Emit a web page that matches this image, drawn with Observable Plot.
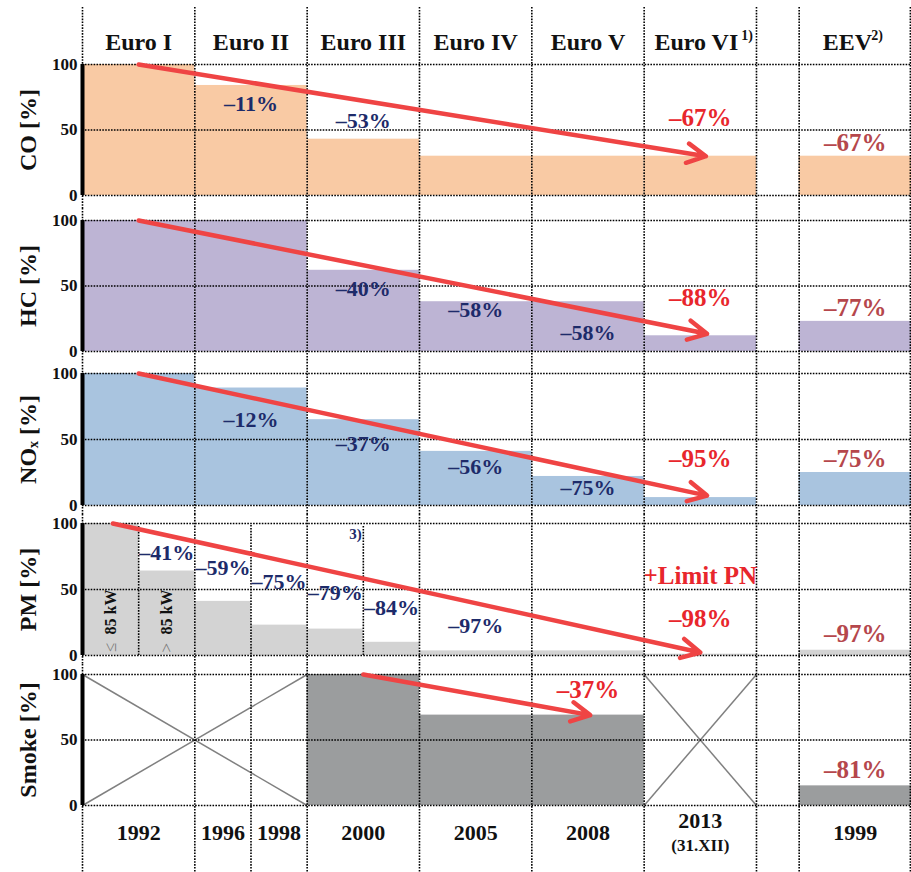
<!DOCTYPE html>
<html><head><meta charset="utf-8">
<script src="https://cdn.jsdelivr.net/npm/d3@7"></script>
<script src="https://cdn.jsdelivr.net/npm/@observablehq/plot@0.6"></script>
<style>
body{margin:0;background:#fff;}
#chart svg{display:block;}
</style></head><body><div id="chart"></div>
<script>
// ---------- data ----------
const stages = ["Euro I","Euro II","Euro III","Euro IV","Euro V","Euro VI","EEV"];
const years = ["1992","1996","1998","2000","2005","2008","2013","1999"];
const yearNote = "(31.XII)";
const coValues = [100, 84, 43, 30, 30, 30, 30];
const hcValues = [100, 100, 62, 38, 38, 12, 23];
const noxValues = [100, 89, 65, 41, 22, 6, 25];
const pmPeriods = ["1992 ≤85 kW","1992 >85 kW","1996","1998","2000","2000 3)","2005","2008","2013","EEV"];
const pmValues = [100, 64, 41, 23, 20, 10, 3.5, 3.5, 1, 4];
const smokeValues = [null, null, 100, 69, 69, null, 15];
// [stage/period, text, kind]
const coNotes = [["Euro II","–11%","navy"],["Euro III","–53%","navy"],["Euro VI","–67%","red"],["EEV","–67%","eev"]];
const hcNotes = [["Euro III","–40%","navy"],["Euro IV","–58%","navy"],["Euro V","–58%","navy"],["Euro VI","–88%","red"],["EEV","–77%","eev"]];
const noxNotes = [["Euro II","–12%","navy"],["Euro III","–37%","navy"],["Euro IV","–56%","navy"],["Euro V","–75%","navy"],["Euro VI","–95%","red"],["EEV","–75%","eev"]];
const pmNotes = [["1992 >85 kW","–41%","navy"],["1996","–59%","navy"],["1998","–75%","navy"],["2000","–79%","navy"],["2000 3)","–84%","navy"],["2005","–97%","navy"],["2013","+Limit PN","red"],["2013","–98%","red"],["EEV","–97%","eev"]];
const smokeNotes = [["Euro V","–37%","red"],["EEV","–81%","eev"]];

// ---------- layout (x in column units, y in % units) ----------
const colStart = [0,1,2,3,4,5,6.38];
const pmX1 = [0,0.5,1,1.5,2,2.5,3,4,5,6.38];
const pmX2 = [0.5,1,1.5,2,2.5,3,4,5,6,7.38];
const gridX = [0,1,2,3,4,5,6,6.38,7.37];
const yearX = [0.5,1.25,1.75,2.5,3.5,4.5,5.5,6.88];
const noteY = {
  co: [70,57,59,40], hc: [48,32,14.5,40.5,33.5], nox: [65,47,29.5,13,35.6,35.6],
  pm: [78,66.7,56,47.7,36,22.7,60,28,16], smoke: [88,27]
};
const arrows = {
  co: {x1:0.5,y1:100,x2:5.55,y2:30}, hc: {x1:0.5,y1:100,x2:5.56,y2:13.5},
  nox: {x1:0.5,y1:100,x2:5.56,y2:7.5}, pm: {x1:0.27,y1:100,x2:5.5,y2:2.3},
  smoke: {x1:2.5,y1:100,x2:4.52,y2:69}
};

const FONT = "'Liberation Serif','Times New Roman',serif";
const NAVY = "#1d2b6a", RED = "#e8262c", EEVRED = "#b5474c", ARROW = "#ef4444";
const DOT = {stroke:"#000", strokeWidth:1.6, strokeDasharray:"1.6,1.3"};
const colMid = s => colStart[stages.indexOf(s)] + 0.5;
const pmMid = p => { const i = pmPeriods.indexOf(p); return (pmX1[i] + pmX2[i]) / 2; };

function noteMarks(notes, ys, xOf) {
  const rows = notes.map(([k, t, kind], i) => ({x: xOf(k), y: ys[i], t, kind}));
  const pick = k => rows.filter(d => d.kind === k);
  const base = {x:"x", y:"y", text:"t", fontWeight:"bold", fontFamily: FONT};
  return [
    Plot.text(pick("navy"), {...base, fill:NAVY, fontSize:22}),
    Plot.text(pick("red"), {...base, fill:RED, fontSize:25}),
    Plot.text(pick("eev"), {...base, fill:EEVRED, fontSize:25})
  ];
}

function panel({mt, fh, mb, vTop = mt, label, bars, fill, notes, arrow, before = [], after = []}) {
  return Plot.plot({
    width: 911, height: mt + fh + mb,
    marginLeft: 82, marginRight: 0, marginTop: mt, marginBottom: mb,
    x: {domain: [0, 7.38], axis: null},
    y: {domain: [0, 100], axis: null},
    style: {fontFamily: FONT, background: "#fff", overflow: "visible"},
    marks: [
      Plot.rect(bars, {x1:"x1", x2:"x2", y1:0, y2:"v", fill}),
      ...before,
      Plot.ruleY([0, 50, 100], DOT),
      Plot.ruleX(gridX, {...DOT, insetTop: -vTop, insetBottom: -mb}),
      Plot.ruleX([0], {y1:0, y2:100, stroke:"#000", strokeWidth:4}),
      Plot.text([0, 50, 100], {y: d => d, text: d => String(d), frameAnchor:"left", dx:-5, textAnchor:"end", lineAnchor:"middle", fontSize:17, fontWeight:"bold", fontFamily: FONT, fill:"#111"}),
      Plot.text([label], {text: d => d, frameAnchor:"left", rotate:-90, dx:-54, textAnchor:"middle", lineAnchor:"middle", fontSize:24, fontWeight:"bold", fontFamily: FONT, fill:"#111"}),
      ...notes,
      Plot.arrow([arrow], {x1:"x1", y1:"y1", x2:"x2", y2:"y2", stroke:ARROW, strokeWidth:4.5, headLength:7, headAngle:55}),
      ...after
    ]
  });
}

const barsOf = vals => vals.map((v, i) => ({x1: colStart[i], x2: colStart[i] + 1, v})).filter(d => d.v != null);

const chart = document.getElementById("chart");

// CO with header
const headerMain = stages.map((s, i) => ({x: colStart[i] + 0.5, t: s}));
const H = {frameAnchor:"top", lineAnchor:"middle", fontWeight:"bold", fontFamily: FONT, fill:"#111"};
chart.append(panel({
  mt:64, fh:131, mb:13, vTop:57, label:"CO [%]", bars: barsOf(coValues), fill:"#f9caa4",
  notes: noteMarks(coNotes, noteY.co, colMid), arrow: arrows.co,
  after: [
    Plot.text(headerMain.filter(d => d.t !== "Euro VI" && d.t !== "EEV"), {...H, x:"x", text:"t", dy:-22, fontSize:24}),
    Plot.text(headerMain.filter(d => d.t === "Euro VI"), {...H, x:"x", text:"t", dy:-22, dx:-4, fontSize:24}),
    Plot.text(headerMain.filter(d => d.t === "Euro VI"), {...H, x:"x", text:() => "1)", dy:-29, dx:41, textAnchor:"start", fontSize:14}),
    Plot.text(headerMain.filter(d => d.t === "EEV"), {...H, x:"x", text:"t", dy:-22, dx:-8, fontSize:24}),
    Plot.text(headerMain.filter(d => d.t === "EEV"), {...H, x:"x", text:() => "2)", dy:-29, dx:16, textAnchor:"start", fontSize:14})
  ]
}));

// HC
chart.append(panel({
  mt:12, fh:131, mb:11, label:"HC [%]", bars: barsOf(hcValues), fill:"#bdb4d4",
  notes: noteMarks(hcNotes, noteY.hc, colMid), arrow: arrows.hc
}));

// NOx
chart.append(panel({
  mt:11, fh:132, mb:9, label:"NOₓ [%]", bars: barsOf(noxValues), fill:"#a9c4df",
  notes: noteMarks(noxNotes, noteY.nox, colMid), arrow: arrows.nox
}));

// PM
const pmBars = pmValues.map((v, i) => ({x1: pmX1[i], x2: pmX2[i], v}));
const kw = [{x: pmMid(pmPeriods[0]), s: "≤"}, {x: pmMid(pmPeriods[1]), s: ">"}];
chart.append(panel({
  mt:9, fh:132, mb:9, label:"PM [%]", bars: pmBars, fill:"#d3d3d3",
  notes: noteMarks(pmNotes, noteY.pm, pmMid), arrow: arrows.pm,
  before: [
    Plot.ruleX([pmX2[0], pmX2[4]], {...DOT, insetTop:3}),
    Plot.ruleX([pmX2[2]], {...DOT, insetTop:2, insetBottom:-9})
  ],
  after: [
    Plot.text(kw, {x: "x", y: 33, text: () => "85 kW", rotate:-90, fontSize:16, fontWeight:"bold", fontFamily: FONT, fill:"#111"}),
    Plot.text(kw, {x: "x", y: 6, text: d => d.s, rotate:-90, fontSize:17, fontFamily: FONT, fill:"#777"}),
    Plot.text(["3)"], {x: pmX2[4] - 0.07, y: 92, text: d => d, fontSize:15, fontWeight:"bold", fontFamily: FONT, fill:NAVY})
  ]
}));

// Smoke with footer
const crosses = [
  {x1:0, y1:100, x2:2, y2:0}, {x1:0, y1:0, x2:2, y2:100},
  {x1:5, y1:100, x2:6, y2:0}, {x1:5, y1:0, x2:6, y2:100}
];
const yearRows = years.map((t, i) => ({x: yearX[i], t}));
const F = {frameAnchor:"bottom", lineAnchor:"middle", fontWeight:"bold", fontFamily: FONT, fill:"#111"};
chart.append(panel({
  mt:10, fh:131, mb:67, label:"Smoke [%]", bars: barsOf(smokeValues), fill:"#9b9d9e",
  notes: noteMarks(smokeNotes, noteY.smoke, colMid), arrow: arrows.smoke,
  before: [
    Plot.link(crosses, {x1:"x1", y1:"y1", x2:"x2", y2:"y2", stroke:"#808080", strokeWidth:1.5}),
    Plot.ruleX([pmX2[2]], {...DOT, insetTop:-10, insetBottom:-67})
  ],
  after: [
    Plot.text(yearRows.filter(d => d.t !== "2013"), {...F, x:"x", text:"t", dy:27, fontSize:22}),
    Plot.text(yearRows.filter(d => d.t === "2013"), {...F, x:"x", text:"t", dy:15, fontSize:22}),
    Plot.text(yearRows.filter(d => d.t === "2013"), {...F, x:"x", text:() => yearNote, dy:40, fontSize:17})
  ]
}));
</script></body></html>
